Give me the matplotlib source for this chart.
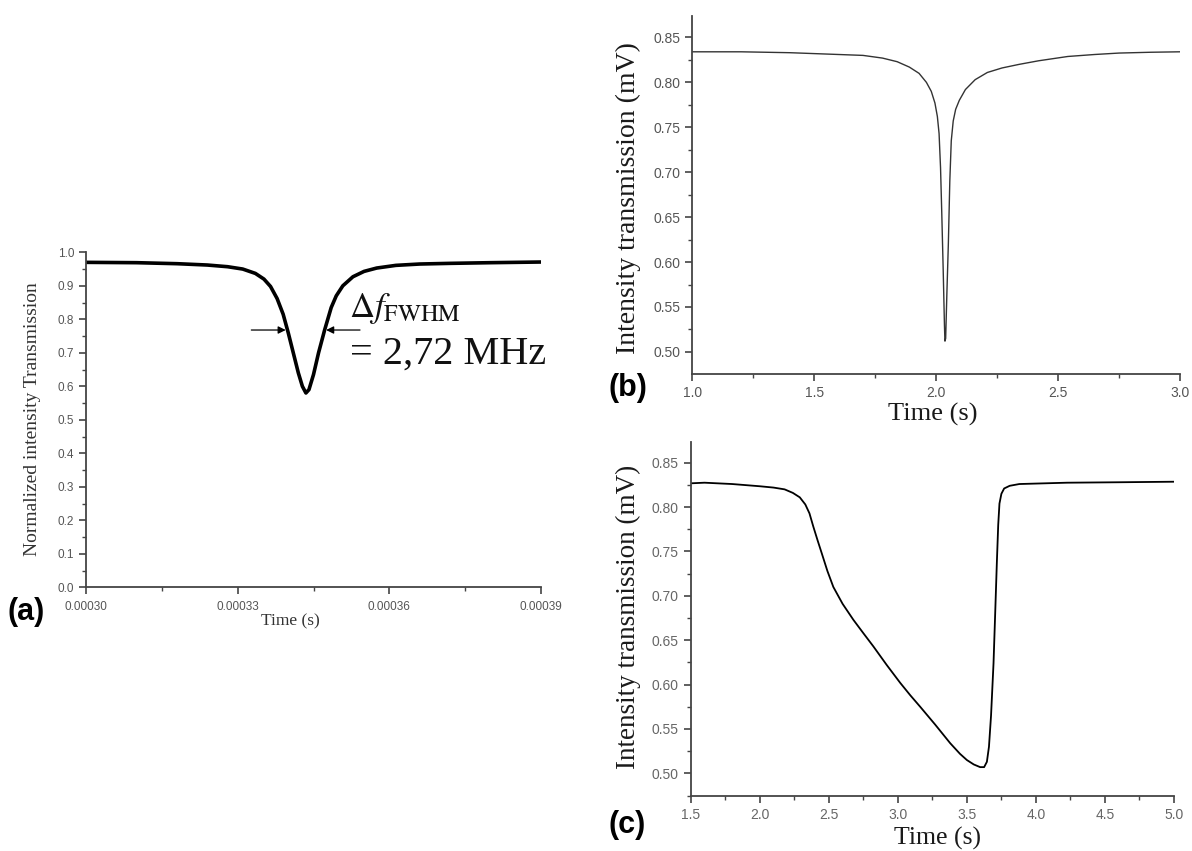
import matplotlib
matplotlib.use("Agg")
import matplotlib.pyplot as plt
from matplotlib.ticker import FixedLocator, MultipleLocator, FormatStrFormatter

# ---------------- data ----------------
a_time = [0.000300, 0.000310, 0.000318, 0.000324, 0.000328, 0.000331, 0.0003335,
          0.0003352, 0.0003365, 0.0003378, 0.0003390, 0.0003400, 0.0003410, 0.0003420,
          0.0003428, 0.0003435, 0.0003441, 0.0003450, 0.0003460, 0.0003472, 0.0003485,
          0.0003495, 0.0003508, 0.0003528, 0.0003550, 0.0003575, 0.0003613, 0.000366,
          0.000372, 0.000380, 0.000390]
a_values = [0.970, 0.969, 0.966, 0.962, 0.957, 0.950, 0.937,
            0.920, 0.898, 0.862, 0.815, 0.760, 0.700, 0.640,
            0.600, 0.580, 0.590, 0.635, 0.700, 0.768, 0.835,
            0.870, 0.900, 0.927, 0.943, 0.953, 0.961, 0.965,
            0.967, 0.969, 0.971]

b_time = [1.00, 1.20, 1.40, 1.60, 1.70, 1.78, 1.84, 1.89, 1.93, 1.96, 1.98, 1.995,
          2.005, 2.012, 2.018, 2.023, 2.029, 2.034, 2.036, 2.039, 2.044, 2.050, 2.056,
          2.062, 2.070, 2.080, 2.095, 2.12, 2.16, 2.21, 2.27, 2.34, 2.42, 2.54, 2.65,
          2.75, 2.88, 3.00]
b_values = [0.834, 0.834, 0.833, 0.831, 0.830, 0.827, 0.823, 0.817, 0.810, 0.800, 0.790, 0.777,
            0.762, 0.743, 0.705, 0.655, 0.590, 0.530, 0.512, 0.515, 0.565, 0.620, 0.690,
            0.735, 0.757, 0.770, 0.780, 0.792, 0.803, 0.811, 0.816, 0.820, 0.824, 0.8288, 0.831,
            0.8326, 0.8335, 0.834]

c_time = [1.50, 1.60, 1.80, 2.00, 2.10, 2.18, 2.24, 2.29, 2.33, 2.36, 2.388, 2.42, 2.449,
          2.49, 2.533, 2.60, 2.678, 2.75, 2.823, 2.92, 3.017, 3.09, 3.162, 3.27, 3.379,
          3.45, 3.50, 3.55, 3.596, 3.625, 3.645, 3.66, 3.675, 3.693, 3.705, 3.717, 3.727,
          3.736, 3.75, 3.77, 3.81, 3.88, 4.225, 4.60, 5.00]
c_values = [0.8268, 0.8275, 0.826, 0.8235, 0.822, 0.820, 0.816, 0.811, 0.803, 0.793, 0.778, 0.762, 0.748,
            0.728, 0.710, 0.691, 0.673, 0.658, 0.643, 0.622, 0.602, 0.588, 0.575, 0.555, 0.534,
            0.522, 0.515, 0.510, 0.507, 0.507, 0.513, 0.530, 0.565, 0.624, 0.680, 0.737, 0.780,
            0.804, 0.815, 0.821, 0.824, 0.826, 0.8275, 0.828, 0.8286]

a_xticks = [0.00030, 0.00033, 0.00036, 0.00039]
a_yticks = [0.0, 0.1, 0.2, 0.3, 0.4, 0.5, 0.6, 0.7, 0.8, 0.9, 1.0]
b_xticks = [1.0, 1.5, 2.0, 2.5, 3.0]
c_xticks = [1.5, 2.0, 2.5, 3.0, 3.5, 4.0, 4.5, 5.0]
bc_yticks = [0.50, 0.55, 0.60, 0.65, 0.70, 0.75, 0.80, 0.85]

# ---------------- figure ----------------
plt.rcParams['mathtext.fontset'] = 'stix'
W, H = 1192, 851
fig = plt.figure(figsize=(W / 100, H / 100), dpi=100)
fig.patch.set_facecolor('white')

SERIF = 'Liberation Serif'
SANS = 'Liberation Sans'


def px_axes(l, r, t, b):
    return fig.add_axes([l / W, 1 - b / H, (r - l) / W, (b - t) / H])


def style(ax, tick_color, spine_color, fs):
    for s in ['top', 'right']:
        ax.spines[s].set_visible(False)
    for s in ['left', 'bottom']:
        ax.spines[s].set_color(spine_color)
        ax.spines[s].set_linewidth(1.3)
    ax.tick_params(which='major', direction='out', length=5, width=1.2,
                   color=spine_color, labelcolor=tick_color, labelsize=fs)
    ax.tick_params(which='minor', direction='out', length=3, width=1.0,
                   color=spine_color)
    for lab in ax.get_xticklabels() + ax.get_yticklabels():
        lab.set_family(SANS)


def ftext(x, y, s, **kw):
    fig.text(x / W, 1 - y / H, s, ha='center', va='center', **kw)


# ---- panel (a) ----
ax_a = px_axes(86, 541, 252.3, 587.3)
ax_a.plot(a_time, a_values, color='black', lw=2.6, solid_joinstyle='round')
ax_a.set_xlim(a_xticks[0], a_xticks[-1])
ax_a.set_ylim(0.0, 1.0)
ax_a.xaxis.set_major_locator(FixedLocator(a_xticks))
ax_a.xaxis.set_minor_locator(MultipleLocator(0.000015))
ax_a.xaxis.set_major_formatter(FormatStrFormatter('%.5f'))
ax_a.yaxis.set_major_locator(FixedLocator(a_yticks))
ax_a.yaxis.set_minor_locator(MultipleLocator(0.05))
ax_a.yaxis.set_major_formatter(FormatStrFormatter('%.1f'))
style(ax_a, '#555555', '#444444', 8.5)
ax_a.tick_params(axis='x', pad=5)

# FWHM arrows and label
arrow_kw = dict(arrowstyle='-|>', color='black', lw=0.9, mutation_scale=11,
                shrinkA=0, shrinkB=0)
ax_a.annotate('', xy=(0.0003395, 0.768), xytext=(0.0003327, 0.768), arrowprops=arrow_kw)
ax_a.annotate('', xy=(0.0003475, 0.768), xytext=(0.0003542, 0.768), arrowprops=arrow_kw)
ax_a.text(0.0003520, 0.807, r'$\Delta f_{\mathrm{FWHM}}$', fontsize=25,
          ha='left', va='baseline', color='#111111')
ax_a.text(0.0003522, 0.669, '= 2,72 MHz', family=SERIF, fontsize=29,
          ha='left', va='baseline', color='#111111')

ftext(33, 419, 'Normalized intensity Transmission', family=SERIF, fontsize=14,
      rotation=90, color='#333333')
ftext(290, 621, 'Time (s)', family=SERIF, fontsize=12.5, color='#333333')
ftext(26, 612, '(a)', family=SANS, fontsize=22, fontweight='bold', color='black')

# ---- panel (b) ----
ax_b = px_axes(692.3, 1180, 15.5, 374.3)
ax_b.plot(b_time, b_values, color='#333333', lw=1.0)
ax_b.set_xlim(1.0, 3.0)
ax_b.set_ylim(0.4751, 0.8744)
ax_b.xaxis.set_major_locator(FixedLocator(b_xticks))
ax_b.xaxis.set_minor_locator(MultipleLocator(0.25))
ax_b.xaxis.set_major_formatter(FormatStrFormatter('%.1f'))
ax_b.yaxis.set_major_locator(FixedLocator(bc_yticks))
ax_b.yaxis.set_minor_locator(MultipleLocator(0.025))
ax_b.yaxis.set_major_formatter(FormatStrFormatter('%.2f'))
style(ax_b, '#555555', '#444444', 10)

ftext(628, 198, 'Intensity transmission (mV)', family=SERIF, fontsize=20,
      rotation=90, color='#1a1a1a')
ftext(933, 414, 'Time (s)', family=SERIF, fontsize=19, color='#1a1a1a')
ftext(628, 388, '(b)', family=SANS, fontsize=22, fontweight='bold', color='black')

# ---- panel (c) ----
ax_c = px_axes(690.7, 1174, 441.7, 795.7)
ax_c.plot(c_time, c_values, color='black', lw=1.3)
ax_c.set_xlim(1.5, 5.0)
ax_c.set_ylim(0.4748, 0.8737)
ax_c.xaxis.set_major_locator(FixedLocator(c_xticks))
ax_c.xaxis.set_minor_locator(MultipleLocator(0.25))
ax_c.xaxis.set_major_formatter(FormatStrFormatter('%.1f'))
ax_c.yaxis.set_major_locator(FixedLocator(bc_yticks))
ax_c.yaxis.set_minor_locator(MultipleLocator(0.025))
ax_c.yaxis.set_major_formatter(FormatStrFormatter('%.2f'))
style(ax_c, '#666666', '#444444', 10)

ftext(628, 617, 'Intensity transmission (mV)', family=SERIF, fontsize=19.5,
      rotation=90, color='#1a1a1a')
ftext(937, 838, 'Time (s)', family=SERIF, fontsize=18.5, color='#1a1a1a')
ftext(627, 825, '(c)', family=SANS, fontsize=22, fontweight='bold', color='black')

fig.savefig('out.png', dpi=100, facecolor='white')
